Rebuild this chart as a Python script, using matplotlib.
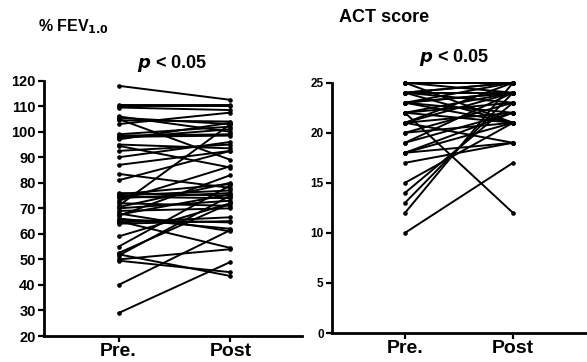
import numpy as np
from matplotlib import pyplot as plt

plt.rcParams['font.family'] = ['Liberation Sans', 'DejaVu Sans']
plt.rcParams['font.weight'] = 'bold'

# %FEV1.0 : Pre. -> Post
pre_fev = [118, 110.5, 110, 109.5, 106, 105.5, 105, 104.5, 103, 99,
           98.5, 98, 97.5, 97, 95, 94.5, 92.5, 90, 87, 83.5,
           81, 76, 75.5, 75, 74.5, 74, 73, 72, 71, 70.5,
           70, 69, 68, 67.5, 67, 66, 65.5, 65, 64.5, 64,
           59, 55, 52.5, 52, 51.5, 50, 49.5, 40, 29]
post_fev = [112.5, 110.5, 110, 108.5, 100, 103, 89, 104, 107.5, 102,
            99, 98.5, 101, 103.5, 93.5, 86, 95, 96, 92.5, 78,
            92.5, 75, 79.5, 77, 74, 76, 86.5, 71, 103, 80,
            73, 70, 61, 75.5, 83, 62, 64.5, 54.5, 66.5, 65,
            72, 79, 72, 43.5, 75, 54, 45, 61.5, 49]

# ACT score : Pre. -> Post
pre_act = [25, 25, 25, 25, 24, 24, 24, 24, 23, 23, 23, 23, 22, 22, 22, 22, 21, 21,
           21, 21, 20, 20, 19, 19, 18, 18, 18, 17, 15, 14, 13, 12, 10, 25, 24, 23]
post_act = [25, 25, 24, 25, 25, 24, 23, 25, 24, 25, 22, 24, 24, 12, 23, 21, 24, 22,
            25, 19, 23, 21, 22, 24, 21, 19, 22, 19, 21, 23, 24, 25, 17, 21, 21, 21]

groups = ['Pre.', 'Post']

W, H = 587, 362
fig = plt.figure(figsize=(W / 100, H / 100), dpi=100)


def px_axes(x0, x1, ytop, ybot):
    return fig.add_axes([x0 / W, 1 - ybot / H, (x1 - x0) / W, (ybot - ytop) / H])


def style(ax, ysize):
    for s in ['top', 'right']:
        ax.spines[s].set_visible(False)
    for s in ['left', 'bottom']:
        ax.spines[s].set_linewidth(2)
    ax.tick_params(width=1.6, length=4)
    ax.tick_params(axis='y', labelsize=ysize, pad=2)
    ax.tick_params(axis='x', labelsize=14, pad=1)
    for lab in ax.get_yticklabels() + ax.get_xticklabels():
        lab.set_fontweight('bold')


def paired(ax, pre, post):
    for a, b in zip(pre, post):
        ax.plot([0, 1], [a, b], color='black', lw=1.4, marker='o', ms=2.3,
                clip_on=False)
    ax.set_xticks([0, 1])
    ax.set_xticklabels(groups)


ax1 = px_axes(44, 302, 80.7, 336)
paired(ax1, pre_fev, post_fev)
ax1.set_xlim(-0.667, 1.64)
ax1.set_ylim(20, 120)
ax1.set_yticks(np.arange(20, 121, 10))
style(ax1, 10.5)

ax2 = px_axes(332, 586, 82.7, 333)
paired(ax2, pre_act, post_act)
ax2.set_xlim(-0.676, 1.676)
ax2.set_ylim(0, 25)
ax2.set_yticks(np.arange(0, 26, 5))
style(ax2, 8.5)

fig.text(38 / W, 1 - 27 / H, r'% FEV$_{\mathbf{1.0}}$', fontsize=11.5, fontweight='bold',
         va='center', ha='left')
fig.text(339 / W, 1 - 18 / H, 'ACT score', fontsize=13, fontweight='bold',
         va='center', ha='left')
for xc, yc in [(172, 64), (454, 58)]:
    fig.text(xc / W, 1 - yc / H, r'$\boldsymbol{p}$ < 0.05', fontsize=13,
             fontweight='bold', ha='center', va='center')

fig.savefig('out.png', dpi=100)
